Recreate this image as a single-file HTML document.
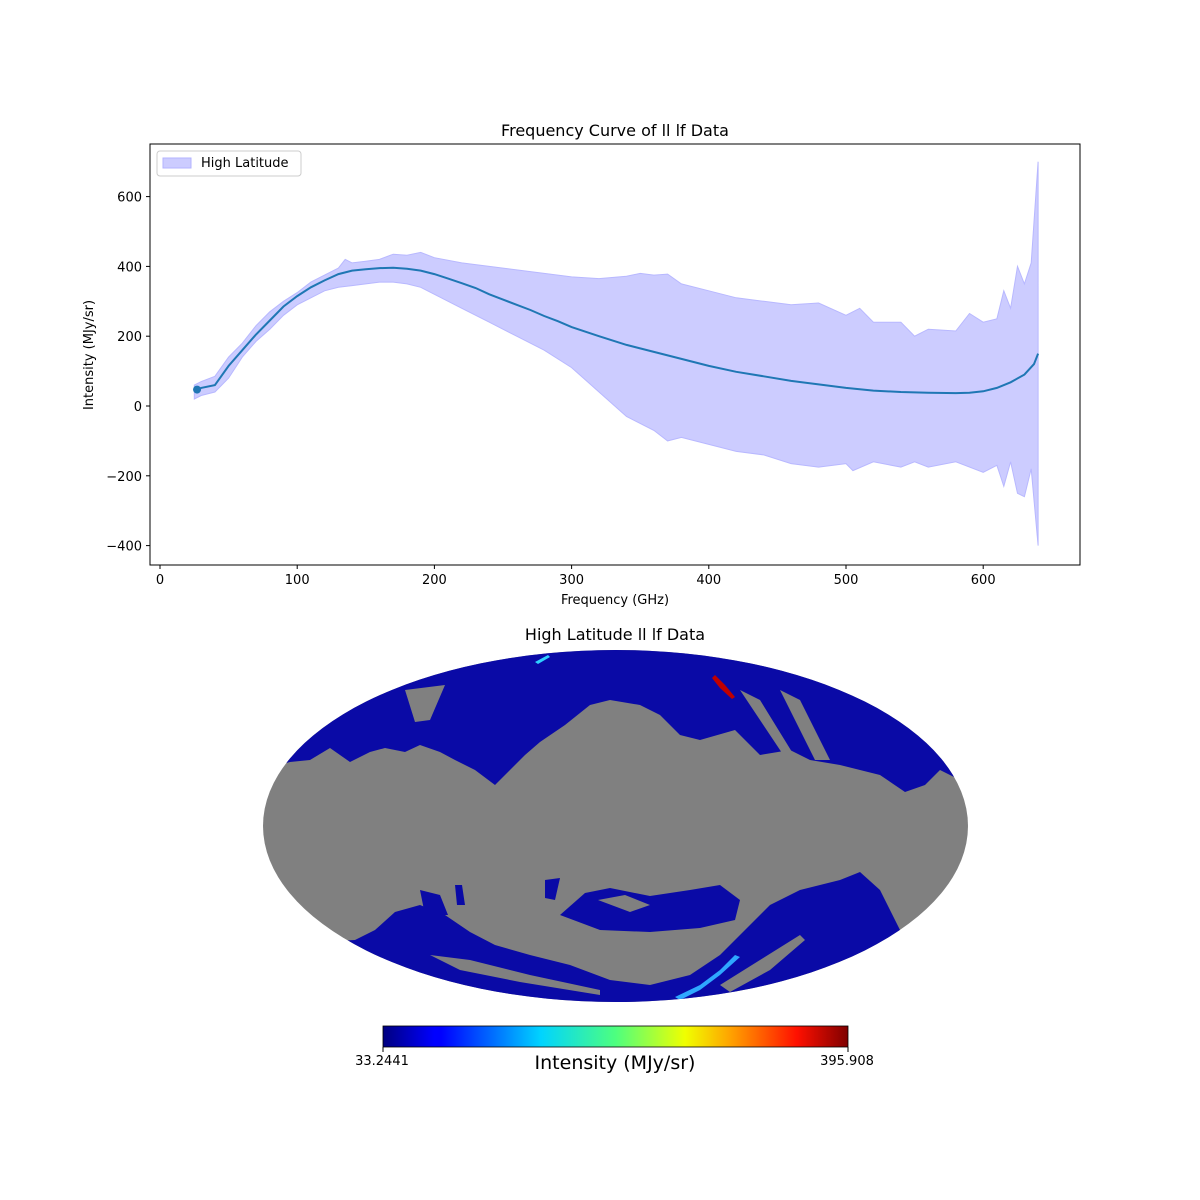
<!DOCTYPE html>
<html><head><meta charset="utf-8"><style>
body{margin:0;background:#fff}
svg{display:block;font-family:"DejaVu Sans","Liberation Sans",sans-serif}
</style></head><body>
<svg id="s" width="1200" height="1200" viewBox="0 0 1200 1200">
<defs>
<linearGradient id="jet" x1="0" x2="1" y1="0" y2="0">
<stop offset="0" stop-color="#00007f"/><stop offset="0.11" stop-color="#0000ff"/>
<stop offset="0.125" stop-color="#0000ff"/><stop offset="0.34" stop-color="#00d4ff"/>
<stop offset="0.5" stop-color="#4dff7f"/><stop offset="0.65" stop-color="#f0ff00"/>
<stop offset="0.75" stop-color="#ffa000"/><stop offset="0.89" stop-color="#ff1000"/>
<stop offset="1" stop-color="#7f0000"/></linearGradient>
<clipPath id="ell"><ellipse cx="615.5" cy="826" rx="352.5" ry="176"/></clipPath>
</defs>
<rect width="1200" height="1200" fill="#fff"/>
<g id="plot"></g>
<rect x="150" y="144" width="930" height="421" fill="none" stroke="#000" stroke-width="1"/>
<text x="615" y="136" font-size="16" text-anchor="middle">Frequency Curve of ll lf Data</text>
<text x="615" y="604" font-size="13" text-anchor="middle">Frequency (GHz)</text>
<text transform="translate(93,355) rotate(-90)" font-size="13" text-anchor="middle">Intensity (MJy/sr)</text>
<g id="ticks" font-size="13"></g>
<rect x="157" y="151" width="144" height="25" rx="3" fill="#fff" stroke="#ccc"/>
<rect x="163" y="158" width="28" height="10" fill="#ccccff" stroke="#b3b3ff"/>
<text x="201" y="167" font-size="13">High Latitude</text>

<text x="615" y="640" font-size="16" text-anchor="middle">High Latitude ll lf Data</text>
<g clip-path="url(#ell)">
<rect x="260" y="645" width="712" height="362" fill="#808080"/>
<path fill="#0a0aa6" d="M260,645 L972,645 L972,800 L960,780 L940,770 L925,785 L905,792 L880,775 L860,770 L840,765 L810,760 L790,750 L760,755 L735,730 L700,740 L680,735 L660,715 L640,705 L610,700 L590,705 L565,725 L540,742 L525,755 L510,770 L495,785 L475,770 L455,760 L440,752 L420,745 L405,752 L385,748 L370,752 L350,762 L330,748 L310,760 L290,762 L260,770 Z"/>
<path fill="#808080" d="M405,690 L445,685 L430,720 L415,722 Z M780,690 L800,700 L830,760 L815,760 Z M740,690 L760,700 L800,765 L790,765 Z"/>
<path fill="#0a0aa6" d="M260,1007 L972,1007 L972,930 L910,950 L895,920 L880,890 L860,872 L840,880 L800,890 L770,905 L745,930 L720,955 L690,975 L650,985 L610,980 L570,965 L530,955 L495,945 L470,932 L445,915 L420,905 L395,912 L375,930 L355,940 L260,945 Z"/>
<path fill="#808080" d="M430,955 L470,960 L530,975 L600,990 L600,995 L520,982 L460,970 Z M720,985 L760,960 L800,935 L805,940 L770,970 L730,992 Z"/>
<path fill="#0a0aa6" d="M560,915 L585,893 L610,888 L650,896 L690,890 L720,885 L740,900 L735,920 L700,928 L650,932 L600,930 Z"/>
<path fill="#808080" d="M598,900 L625,895 L650,905 L630,912 Z"/>
<path fill="#0a0aa6" d="M545,880 L560,878 L555,900 L545,898 Z M420,890 L440,895 L448,915 L425,915 Z M455,885 L462,885 L465,905 L457,905 Z"/>
<path d="M675,997 L700,985 L720,970 L735,955 L740,957 L720,975 L700,990 L680,1000 Z" fill="#2fa8ff"/>
<path d="M715,675 L725,685 L735,697 L732,699 L720,688 L712,678 Z" fill="#c00000"/>
<path d="M535,662 L548,655 L550,657 L538,664 Z" fill="#30d0ff"/>
</g>
<rect x="383" y="1026" width="465" height="21" fill="url(#jet)" stroke="#000" stroke-width="0.8"/>
<line x1="383" y1="1047" x2="383" y2="1052" stroke="#000"/><line x1="848" y1="1047" x2="848" y2="1052" stroke="#000"/>
<text x="382" y="1065" font-size="13" text-anchor="middle">33.2441</text>
<text x="847" y="1065" font-size="13" text-anchor="middle">395.908</text>
<text x="615" y="1069" font-size="19" text-anchor="middle">Intensity (MJy/sr)</text>
</svg>
<script>
var X=f=>160+f*1.372,Y=v=>406-v*0.349;
var m=[[27,47],[30,52],[40,60],[50,115],[60,160],[70,205],[80,245],[90,285],[100,315],[110,340],[120,360],[130,378],[140,388],[150,392],[160,395],[170,396],[180,393],[190,388],[200,378],[210,365],[220,352],[230,338],[240,320],[250,305],[260,290],[270,275],[280,258],[290,243],[300,226],[320,200],[340,175],[360,155],[380,135],[400,115],[420,98],[440,85],[460,72],[480,62],[500,52],[520,44],[540,40],[560,38],[580,37],[590,38],[600,42],[610,52],[620,68],[630,90],[637,120],[640,150]];
var u=[[25,60],[30,70],[40,85],[50,140],[60,180],[70,230],[80,270],[90,300],[100,325],[110,355],[120,375],[130,395],[135,420],[140,410],[150,415],[160,420],[170,435],[180,432],[190,440],[200,425],[220,410],[240,400],[260,390],[280,380],[300,370],[320,365],[340,372],[350,380],[360,375],[370,378],[380,350],[400,330],[420,310],[440,300],[460,290],[480,295],[500,260],[510,280],[520,240],[540,240],[550,200],[560,220],[580,215],[590,265],[600,240],[610,250],[615,330],[620,280],[625,400],[630,350],[635,410],[640,700]];
var l=[[25,20],[30,30],[40,40],[50,80],[60,140],[70,185],[80,220],[90,260],[100,290],[110,310],[120,330],[130,340],[140,345],[150,350],[160,355],[170,355],[180,350],[190,340],[200,320],[220,280],[240,240],[260,200],[280,160],[300,110],[320,40],[340,-30],[360,-70],[370,-100],[380,-90],[400,-110],[420,-130],[440,-140],[460,-165],[480,-175],[500,-165],[505,-185],[520,-160],[540,-175],[550,-160],[560,-175],[580,-160],[600,-190],[610,-170],[615,-230],[620,-160],[625,-250],[630,-260],[635,-180],[640,-400]];
var P=a=>a.map(p=>X(p[0]).toFixed(1)+','+Y(p[1]).toFixed(1)).join(' ');
var h='<polygon points="'+P(u)+' '+P(l.slice().reverse())+'" fill="#ccccff" stroke="#b8b8ff" stroke-width="1"/>';
h+='<polyline points="'+P(m)+'" fill="none" stroke="#1f77b4" stroke-width="2"/>';
h+='<circle cx="'+X(27)+'" cy="'+Y(47)+'" r="4" fill="#1f77b4"/>';
document.getElementById('plot').innerHTML=h;
var t='';
for(var f=0;f<=600;f+=100){t+='<line x1="'+X(f)+'" y1="565" x2="'+X(f)+'" y2="569" stroke="#000"/><text x="'+X(f)+'" y="584" text-anchor="middle">'+f+'</text>';}
for(var v=-400;v<=600;v+=200){t+='<line x1="146" y1="'+Y(v)+'" x2="150" y2="'+Y(v)+'" stroke="#000"/><text x="142" y="'+(Y(v)+5)+'" text-anchor="end">'+(v<0?'\u2212'+(-v):v)+'</text>';}
document.getElementById('ticks').innerHTML=t;
</script>
</body></html>
